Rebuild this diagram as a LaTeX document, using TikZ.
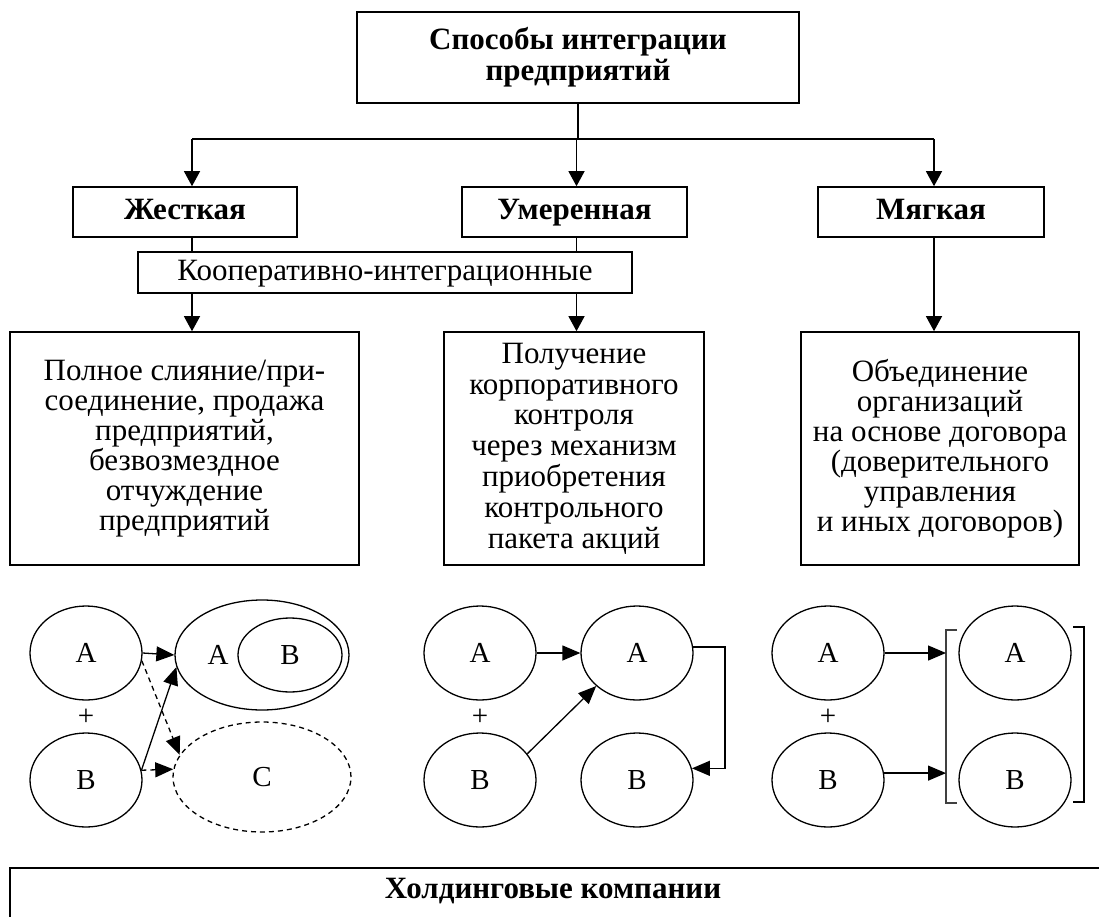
\documentclass[tikz,border=0pt]{standalone}
\usepackage{fontspec}
\setmainfont{Liberation Serif}
\usetikzlibrary{arrows.meta,shapes.geometric,calc}
\begin{document}
\begin{tikzpicture}[x=1pt,y=-1pt,
  font=\fontsize{31}{30}\selectfont,
  box/.style={draw,line width=1.6pt,inner sep=0pt,align=center},
  bfbox/.style={box,font=\fontsize{31}{31}\selectfont\bfseries},
  oneline/.style={text height=22pt,text depth=7pt},
  conn/.style={line width=1.3pt},
  arr/.style={conn,-{Triangle[length=15pt,width=16pt]}},
  sarr/.style={line width=1.3pt,-{Triangle[length=18pt,width=15pt]}},
  ell/.style={draw,ellipse,line width=1.3pt,inner sep=0pt,minimum width=112pt,minimum height=94pt,font=\fontsize{29}{30}\selectfont,text height=19pt,text depth=0pt},
  lbl/.style={inner sep=0pt,font=\fontsize{29}{30}\selectfont},
]
\useasboundingbox (0,0) rectangle (1099,917);

% ---------- upper tree ----------
\node[bfbox,minimum width=442pt,minimum height=91pt] (top) at (578,57.5) {Способы интеграции\\предприятий};
\node[bfbox,oneline,minimum width=224pt,minimum height=50pt] (jest) at (185,212) {Жесткая};
\node[bfbox,oneline,minimum width=225pt,minimum height=50pt] (umer) at (574.5,212) {Умеренная};
\node[bfbox,oneline,minimum width=226pt,minimum height=50pt] (myag) at (931,212) {Мягкая};
\node[box,oneline,minimum width=494pt,minimum height=41pt] (coop) at (385,272.5) {Кооперативно-интеграционные};

\node[box,minimum width=349pt,minimum height=233pt] (b1) at (184.5,448.5)
  {Полное слияние/при-\\соединение, продажа\\предприятий,\\безвозмездное\\отчуждение\\предприятий};
\node[box,minimum width=260pt,minimum height=233pt,font=\fontsize{31}{30.8}\selectfont] (b2) at (574,448.5)
  {Получение\\корпоративного\\контроля\\через механизм\\приобретения\\контрольного\\пакета акций};
\node[box,minimum width=278pt,minimum height=233pt] (b3) at (940,448.5)
  {Объединение\\организаций\\на основе договора\\(доверительного\\управления\\и иных договоров)};

\coordinate (hl) at (192,139);
\coordinate (hm) at (576.5,139);
\coordinate (hr) at (934,139);
\draw[conn] (hl) -- (hr);
\draw[conn] (top.south) -- (top.south |- hm);
\draw[arr] (hl) -- (hl |- jest.north);
\draw[arr] (hm) -- (hm |- umer.north);
\draw[arr] (hr) -- (hr |- myag.north);
\draw[conn] (hl |- jest.south) -- (hl |- coop.north);
\draw[arr] (hl |- coop.south) -- (hl |- b1.north);
\draw[conn] (hm |- umer.south) -- (hm |- coop.north);
\draw[arr] (hm |- coop.south) -- (hm |- b2.north);
\draw[arr] (hr |- myag.south) -- (hr |- b3.north);

% ---------- left scheme ----------
\node[ell] (la) at (86,653) {A};
\node[ell] (lb) at (86,780) {B};
\node[lbl] (lplus) at (86,717) {+};
\node[draw,ellipse,line width=1.3pt,inner sep=0pt,minimum width=174pt,minimum height=110pt] (big) at (262,655) {};
\node[ell,minimum width=104pt,minimum height=74pt] (inner) at (290,655) {B};
\node[lbl,text height=19pt,text depth=0pt] (bigA) at (218,655) {A};
\node[ell,dashed,dash pattern=on 5pt off 4pt,minimum width=178pt,minimum height=110pt] (lc) at (262,777) {C};
\draw[sarr] (la.east) -- (big.west);
\draw[sarr,dashed,dash pattern=on 5pt off 4pt] (la.-8) -- (lc.165);
\draw[sarr] (lb.10) -- (big.188);
\draw[sarr,dashed,dash pattern=on 5pt off 4pt] (lb.10) -- (lc.175);

% ---------- middle scheme ----------
\node[ell] (ma) at (480,653) {A};
\node[ell] (mb) at (480,780) {B};
\node[lbl] (mplus) at (480,717) {+};
\node[ell] (ma2) at (637,653) {A};
\node[ell] (mb2) at (637,780) {B};
\coordinate (mel) at (725,700);
\draw[sarr] (ma.east) -- (ma2.west);
\draw[sarr] (mb.29) -- (ma2.219);
\draw[sarr] (ma2.6) -- (ma2.6 -| mel) |- (mb2.12);

% ---------- right scheme ----------
\node[ell] (ra) at (828,653) {A};
\node[ell] (rb) at (828,780) {B};
\node[lbl] (rplus) at (828,717) {+};
\node[ell] (ra2) at (1015,653) {A};
\node[ell] (rb2) at (1015,780) {B};
\coordinate (brl) at (946,630);
\coordinate (brr) at (1084,627);
\draw[line width=1.8pt,black!75] (957,630) -- (brl) -- (946,803) -- (957,803);
\draw[line width=1.6pt] (1073,627) -- (brr) -- (1084,802) -- (1073,802);
\draw[sarr] (ra.east) -- (ra.east -| brl);
\draw[sarr] (rb.7) -- (rb.7 -| brl);

% ---------- bottom ----------
\draw[line width=1.6pt] (10,960) -- (10,868) -- (1115,868) -- (1115,960);
\node[oneline,inner sep=0pt,font=\fontsize{31}{30}\selectfont\bfseries] (hold) at (553,891) {Холдинговые компании};
\end{tikzpicture}
\end{document}
